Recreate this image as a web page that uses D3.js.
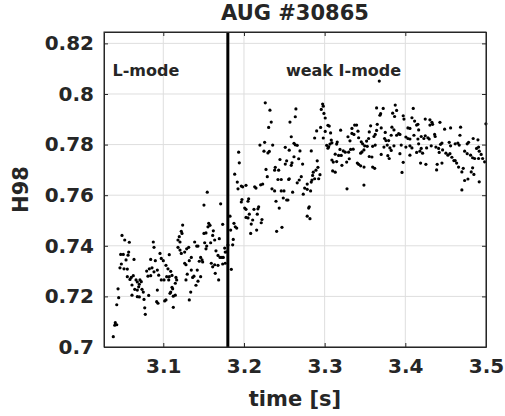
<!DOCTYPE html>
<html>
<head>
<meta charset="utf-8">
<script src="https://cdn.jsdelivr.net/npm/d3@7"></script>
<style>
  body { margin: 0; background: #fff; }
  text { font-family: "DejaVu Sans", sans-serif; font-weight: bold; fill: #262626; }
</style>
</head>
<body>
<script>
var width = 505,
    height = 416;

var margin = {top: 32, right: 19, bottom: 69, left: 104};

var title = "AUG #30865";
var xLabel = "time [s]";
var yLabel = "H98";
var xTicks = [3.1, 3.2, 3.3, 3.4, 3.5];
var yTicks = [0.7, 0.72, 0.74, 0.76, 0.78, 0.8, 0.82];
var transitionTime = 3.18;
var phaseLabels = ["L-mode", "weak I-mode"];
var phaseLabelTimes = [3.037, 3.252];
var phaseLabelLevel = 0.807;

// time [s] of each H98 sample
var times = [
  3.0488, 3.0522, 3.0579, 3.0876, 3.0885, 3.0472, 3.0504, 3.0571, 3.0563, 3.0637,
  3.0538, 3.0480, 3.0463, 3.0513, 3.0554, 3.0844, 3.0901, 3.0959, 3.0975, 3.1000,
  3.1033, 3.0794, 3.0827, 3.0860, 3.0885, 3.0844, 3.0926, 3.0943, 3.0810, 3.0554,
  3.0603, 3.0628, 3.0587, 3.0662, 3.0678, 3.0711, 3.0727, 3.0703, 3.0695, 3.0612,
  3.0646, 3.0678, 3.0736, 3.0752, 3.0678, 3.0703, 3.0612, 3.0761, 3.0819, 3.0926,
  3.0975, 3.1009, 3.1042, 3.0918, 3.0934, 3.1017, 3.0770, 3.0777, 3.0439, 3.0447,
  3.0423, 3.0405, 3.0423, 3.0398, 3.0380,
  3.1545, 3.1504, 3.1711, 3.1563, 3.1579, 3.1554, 3.1736, 3.1240, 3.1223, 3.1232,
  3.1504, 3.1529, 3.1620, 3.1612, 3.1198, 3.1182, 3.1207, 3.1389, 3.1414, 3.1430,
  3.1513, 3.1587, 3.1637, 3.1694, 3.1182, 3.1207, 3.1223, 3.1290, 3.1315, 3.1265,
  3.1529, 3.1538, 3.1653, 3.1678, 3.1703, 3.1727, 3.1761, 3.1768, 3.1744, 3.1074,
  3.1347, 3.1322, 3.1265, 3.1281, 3.1463, 3.1480, 3.1446, 3.1488, 3.1595, 3.1612,
  3.1637, 3.1678, 3.1736, 3.1768, 3.1058, 3.1092, 3.1108, 3.1074, 3.1067, 3.1157,
  3.1166, 3.1149, 3.1347, 3.1297, 3.1380, 3.1421, 3.1281, 3.1364, 3.1430, 3.1405,
  3.1463, 3.1644, 3.1686, 3.1108, 3.1116, 3.1092, 3.1083, 3.1149, 3.1124, 3.1340,
  3.1322, 3.1124, 3.1033, 3.1802, 3.1789,
  3.2264, 3.2322, 3.2338, 3.2306, 3.2570, 3.2198, 3.2256, 3.2356, 3.2248, 3.2297,
  3.2314, 3.2512, 3.2561, 3.1934, 3.1942, 3.2446, 3.2529, 3.2512, 3.2273, 3.2388,
  3.2380, 3.2430, 3.1885, 3.2289, 3.2421, 3.2462, 3.2554, 3.1917, 3.1967, 3.1984,
  3.2025, 3.1926, 3.2133, 3.2149, 3.2207, 3.2232, 3.2347, 3.2380, 3.2462, 3.2496,
  3.1975, 3.1967, 3.2058, 3.2050, 3.2487, 3.2529, 3.2397, 3.2009, 3.2025, 3.2066,
  3.2124, 3.2173, 3.2182, 3.2437, 3.2025, 3.2050, 3.2108, 3.2090, 3.2165, 3.2223,
  3.2214, 3.2083, 3.2157, 3.2405, 3.2471, 3.1827, 3.1876, 3.1892, 3.1910, 3.1835,
  3.1867, 3.1860, 3.1843,
  3.2975, 3.2958, 3.2983, 3.2644, 3.2636, 3.2991, 3.3007, 3.3041, 3.3057, 3.2950,
  3.2901, 3.3007, 3.3074, 3.2876, 3.2983, 3.3198, 3.2586, 3.3082, 3.3090, 3.3066,
  3.3025, 3.3041, 3.3050, 3.3156, 3.3149, 3.3289, 3.3314, 3.3338, 3.2620, 3.2636,
  3.2660, 3.3190, 3.3231, 3.3255, 3.3297, 3.3322, 3.3131, 3.3173, 3.3206, 3.3090,
  3.3107, 3.3149, 3.3214, 3.3273, 3.3305, 3.2694, 3.2834, 3.2620, 3.2595, 3.2678,
  3.2727, 3.2908, 3.2917, 3.2892, 3.2859, 3.2586, 3.3099, 3.3131, 3.2851, 3.2876,
  3.2926, 3.2942, 3.2710, 3.2685, 3.2660, 3.2561, 3.2784, 3.2834, 3.2843, 3.2752,
  3.2784, 3.2826, 3.2603, 3.2735, 3.3277, 3.2545, 3.2809, 3.2802, 3.2784, 3.2818,
  3.3677, 3.3644, 3.3726, 3.3694, 3.3685, 3.3875, 3.3892, 3.3843, 3.3867, 3.4098,
  3.3974, 3.3983, 3.4082, 3.4115, 3.3372, 3.3396, 3.3338, 3.3570, 3.3652, 3.3644,
  3.3701, 3.3834, 3.3859, 3.4032, 3.4057, 3.4140, 3.4165, 3.3413, 3.3363, 3.3553,
  3.3611, 3.3627, 3.3751, 3.3743, 3.3760, 3.3793, 3.3892, 3.3917, 3.3933, 3.3825,
  3.4007, 3.4032, 3.4057, 3.4107, 3.4156, 3.3421, 3.3454, 3.3520, 3.3545, 3.3627,
  3.3595, 3.3471, 3.3496, 3.3528, 3.3487, 3.3354, 3.3446, 3.3463, 3.3735, 3.3809,
  3.3859, 3.3825, 3.3776, 3.3949, 3.4007, 3.4057, 3.4082, 3.4140, 3.4181, 3.3701,
  3.3783, 3.3800, 3.3933, 3.4057, 3.3553, 3.3586, 3.3974, 3.3405, 3.3421, 3.3446,
  3.3488, 3.3595, 3.3620, 3.3959, 3.3487,
  3.4247, 3.4305, 3.4330, 3.4305, 3.4338, 3.4429, 3.4156, 3.4487, 3.4561, 3.4685,
  3.4999, 3.4197, 3.4230, 3.4247, 3.4280, 3.4296, 3.4363, 3.4370, 3.4677, 3.4165,
  3.4197, 3.4214, 3.4264, 3.4321, 3.4379, 3.4413, 3.4437, 3.4454, 3.4544, 3.4561,
  3.4618, 3.4651, 3.4668, 3.4767, 3.4784, 3.4841, 3.4900, 3.4420, 3.4462, 3.4503,
  3.4528, 3.4553, 3.4577, 3.4602, 3.4618, 3.4636, 3.4735, 3.4767, 3.4809, 3.4834,
  3.4859, 3.4883, 3.4908, 3.4916, 3.4940, 3.4908, 3.4958, 3.4189, 3.4255, 3.4395,
  3.4454, 3.4388, 3.4718, 3.4701, 3.4834, 3.4817, 3.4660, 3.4850, 3.4916, 3.4776,
  3.4735, 3.4701, 3.4983
];

// H98 confinement factor, one per time above
var h98 = [
  0.7441, 0.7423, 0.7414, 0.7415, 0.7394, 0.7366, 0.7366, 0.7375, 0.7363, 0.7346,
  0.7344, 0.7328, 0.7313, 0.7309, 0.7308, 0.7346, 0.7341, 0.7370, 0.7350, 0.7341,
  0.7323, 0.7300, 0.7309, 0.7313, 0.7297, 0.7282, 0.7304, 0.7284, 0.7280, 0.7278,
  0.7275, 0.7282, 0.7267, 0.7265, 0.7257, 0.7265, 0.7258, 0.7248, 0.7238, 0.7245,
  0.7228, 0.7225, 0.7228, 0.7217, 0.7199, 0.7198, 0.7205, 0.7188, 0.7204, 0.7225,
  0.7265, 0.7265, 0.7278, 0.7179, 0.7173, 0.7182, 0.7155, 0.7129, 0.7230, 0.7195,
  0.7167, 0.7096, 0.7088, 0.7086, 0.7041,
  0.7612, 0.7561, 0.7566, 0.7489, 0.7481, 0.7475, 0.7485, 0.7482, 0.7457, 0.7449,
  0.7449, 0.7451, 0.7459, 0.7441, 0.7436, 0.7423, 0.7415, 0.7415, 0.7399, 0.7399,
  0.7412, 0.7412, 0.7423, 0.7428, 0.7394, 0.7383, 0.7370, 0.7388, 0.7394, 0.7375,
  0.7388, 0.7399, 0.7380, 0.7362, 0.7354, 0.7354, 0.7391, 0.7375, 0.7354, 0.7365,
  0.7354, 0.7341, 0.7331, 0.7325, 0.7354, 0.7344, 0.7339, 0.7336, 0.7331, 0.7317,
  0.7325, 0.7323, 0.7328, 0.7331, 0.7309, 0.7299, 0.7283, 0.7278, 0.7265, 0.7275,
  0.7265, 0.7252, 0.7304, 0.7288, 0.7280, 0.7304, 0.7265, 0.7275, 0.7260, 0.7244,
  0.7278, 0.7291, 0.7265, 0.7236, 0.7230, 0.7217, 0.7212, 0.7205, 0.7201, 0.7217,
  0.7186, 0.7157, 0.7186, 0.7403, 0.7376,
  0.7965, 0.7936, 0.7889, 0.7868, 0.7889, 0.7798, 0.7809, 0.7798, 0.7774, 0.7767,
  0.7773, 0.7789, 0.7778, 0.7770, 0.7728, 0.7741, 0.7736, 0.7723, 0.7702, 0.7710,
  0.7699, 0.7699, 0.7683, 0.7673, 0.7662, 0.7662, 0.7662, 0.7652, 0.7636, 0.7633,
  0.7639, 0.7625, 0.7633, 0.7628, 0.7641, 0.7644, 0.7625, 0.7617, 0.7617, 0.7617,
  0.7583, 0.7573, 0.7586, 0.7576, 0.7589, 0.7581, 0.7576, 0.7549, 0.7544, 0.7525,
  0.7544, 0.7546, 0.7554, 0.7549, 0.7512, 0.7510, 0.7502, 0.7486, 0.7525, 0.7504,
  0.7491, 0.7449, 0.7462, 0.7457, 0.7473, 0.7517, 0.7489, 0.7475, 0.7470, 0.7462,
  0.7425, 0.7404, 0.7307,
  0.7960, 0.7939, 0.7952, 0.7941, 0.7910, 0.7923, 0.7905, 0.7876, 0.7873, 0.7868,
  0.7854, 0.7852, 0.7846, 0.7826, 0.7826, 0.7857, 0.7831, 0.7818, 0.7807, 0.7802,
  0.7797, 0.7786, 0.7791, 0.7810, 0.7802, 0.7831, 0.7815, 0.7844, 0.7805, 0.7799,
  0.7797, 0.7781, 0.7775, 0.7770, 0.7770, 0.7781, 0.7762, 0.7757, 0.7757, 0.7739,
  0.7731, 0.7733, 0.7718, 0.7731, 0.7744, 0.7775, 0.7775, 0.7752, 0.7728, 0.7744,
  0.7723, 0.7736, 0.7710, 0.7699, 0.7691, 0.7718, 0.7696, 0.7691, 0.7678, 0.7665,
  0.7665, 0.7681, 0.7673, 0.7660, 0.7649, 0.7665, 0.7644, 0.7652, 0.7660, 0.7628,
  0.7623, 0.7617, 0.7612, 0.7604, 0.7625, 0.7581, 0.7554, 0.7549, 0.7517, 0.7507,
  0.8051, 0.7945, 0.7943, 0.7922, 0.7916, 0.7956, 0.7935, 0.7924, 0.7911, 0.7943,
  0.7914, 0.7901, 0.7906, 0.7893, 0.7877, 0.7877, 0.7864, 0.7874, 0.7880, 0.7856,
  0.7866, 0.7869, 0.7858, 0.7866, 0.7864, 0.7877, 0.7858, 0.7853, 0.7840, 0.7850,
  0.7832, 0.7840, 0.7848, 0.7824, 0.7816, 0.7816, 0.7837, 0.7843, 0.7840, 0.7837,
  0.7830, 0.7824, 0.7822, 0.7837, 0.7822, 0.7827, 0.7811, 0.7814, 0.7824, 0.7798,
  0.7793, 0.7803, 0.7795, 0.7793, 0.7779, 0.7782, 0.7766, 0.7771, 0.7790, 0.7787,
  0.7795, 0.7777, 0.7798, 0.7798, 0.7790, 0.7795, 0.7787, 0.7769, 0.7774, 0.7761,
  0.7756, 0.7745, 0.7764, 0.7758, 0.7753, 0.7751, 0.7730, 0.7727, 0.7722, 0.7716,
  0.7711, 0.7711, 0.7706, 0.7690, 0.7640,
  0.7901, 0.7898, 0.7888, 0.7877, 0.7880, 0.7888, 0.7880, 0.7861, 0.7866, 0.7869,
  0.7882, 0.7832, 0.7824, 0.7835, 0.7827, 0.7822, 0.7840, 0.7832, 0.7837, 0.7803,
  0.7785, 0.7766, 0.7787, 0.7795, 0.7790, 0.7785, 0.7801, 0.7806, 0.7809, 0.7795,
  0.7803, 0.7806, 0.7798, 0.7803, 0.7809, 0.7824, 0.7819, 0.7769, 0.7779, 0.7766,
  0.7758, 0.7764, 0.7750, 0.7737, 0.7737, 0.7727, 0.7774, 0.7764, 0.7758, 0.7748,
  0.7745, 0.7785, 0.7790, 0.7774, 0.7761, 0.7745, 0.7745, 0.7727, 0.7722, 0.7722,
  0.7727, 0.7700, 0.7706, 0.7692, 0.7708, 0.7692, 0.7711, 0.7682, 0.7653, 0.7664,
  0.7658, 0.7621, 0.7732
];

var svg = d3.select("body").append("svg")
    .attr("width", width)
    .attr("height", height);

var x = d3.scaleLinear()
    .domain([3.0265, 3.5])
    .range([margin.left, width - margin.right]);

var y = d3.scaleLinear()
    .domain([0.7, 0.8245])
    .range([height - margin.bottom, margin.top]);

var x0 = margin.left, x1 = width - margin.right,
    y0 = height - margin.bottom, y1 = margin.top;

// grid
svg.append("g").selectAll("line.gx")
    .data(xTicks)
  .enter().append("line")
    .attr("x1", function(d) { return x(d); })
    .attr("x2", function(d) { return x(d); })
    .attr("y1", y0).attr("y2", y1)
    .attr("stroke", "#dedede").attr("stroke-width", 1);

svg.append("g").selectAll("line.gy")
    .data(yTicks)
  .enter().append("line")
    .attr("y1", function(d) { return y(d); })
    .attr("y2", function(d) { return y(d); })
    .attr("x1", x0).attr("x2", x1)
    .attr("stroke", "#dedede").attr("stroke-width", 1);

// data points
svg.append("g").selectAll("circle")
    .data(times)
  .enter().append("circle")
    .attr("cx", function(d) { return x(d); })
    .attr("cy", function(d, i) { return y(h98[i]); })
    .attr("r", 1.6)
    .attr("fill", "#000");

// transition marker
svg.append("line")
    .attr("x1", x(transitionTime)).attr("x2", x(transitionTime))
    .attr("y1", y0).attr("y2", y1)
    .attr("stroke", "#000").attr("stroke-width", 3);

// axes (ticks inside, box on all sides)
var tickLen = 4;
svg.append("g")
    .attr("transform", "translate(0," + y0 + ")")
    .call(d3.axisBottom(x).tickValues(xTicks).tickSizeInner(-tickLen).tickSizeOuter(0).tickPadding(12)
      .tickFormat(d3.format(".1f")));
svg.append("g")
    .attr("transform", "translate(0," + y1 + ")")
    .call(d3.axisTop(x).tickValues(xTicks).tickSizeInner(-tickLen).tickSizeOuter(0).tickFormat(""));
svg.append("g")
    .attr("transform", "translate(" + x0 + ",0)")
    .call(d3.axisLeft(y).tickValues(yTicks).tickSizeInner(-tickLen).tickSizeOuter(0).tickPadding(10)
      .tickFormat(function(d) { return d3.format("")(+d.toFixed(2)); }));
svg.append("g")
    .attr("transform", "translate(" + x1 + ",0)")
    .call(d3.axisRight(y).tickValues(yTicks).tickSizeInner(-tickLen).tickSizeOuter(0).tickFormat(""));

svg.selectAll(".domain").attr("stroke", "#262626");
svg.selectAll(".tick line").attr("stroke", "#262626");
svg.selectAll(".tick text")
    .attr("fill", "#262626")
    .style("font-family", "DejaVu Sans")
    .style("font-weight", "bold")
    .style("font-size", "20px");

svg.append("rect")
    .attr("x", x0).attr("y", y1)
    .attr("width", x1 - x0).attr("height", y0 - y1)
    .attr("fill", "none").attr("stroke", "#262626").attr("stroke-width", 1);

// labels
svg.append("text")
    .attr("x", (x0 + x1) / 2).attr("y", 20)
    .attr("text-anchor", "middle")
    .style("font-size", "21px")
    .attr("fill", "#000")
    .text(title);

svg.append("text")
    .attr("x", (x0 + x1) / 2).attr("y", 406)
    .attr("text-anchor", "middle")
    .style("font-size", "21px")
    .text(xLabel);

svg.append("text")
    .attr("transform", "translate(28," + (y0 + y1) / 2 + ") rotate(-90)")
    .attr("text-anchor", "middle")
    .style("font-size", "21px")
    .text(yLabel);

svg.append("g").selectAll("text.phase")
    .data(phaseLabels)
  .enter().append("text")
    .attr("x", function(d, i) { return x(phaseLabelTimes[i]); })
    .attr("y", y(phaseLabelLevel))
    .style("font-size", "16px")
    .attr("fill", "#000")
    .text(function(d) { return d; });
</script>
</body>
</html>
